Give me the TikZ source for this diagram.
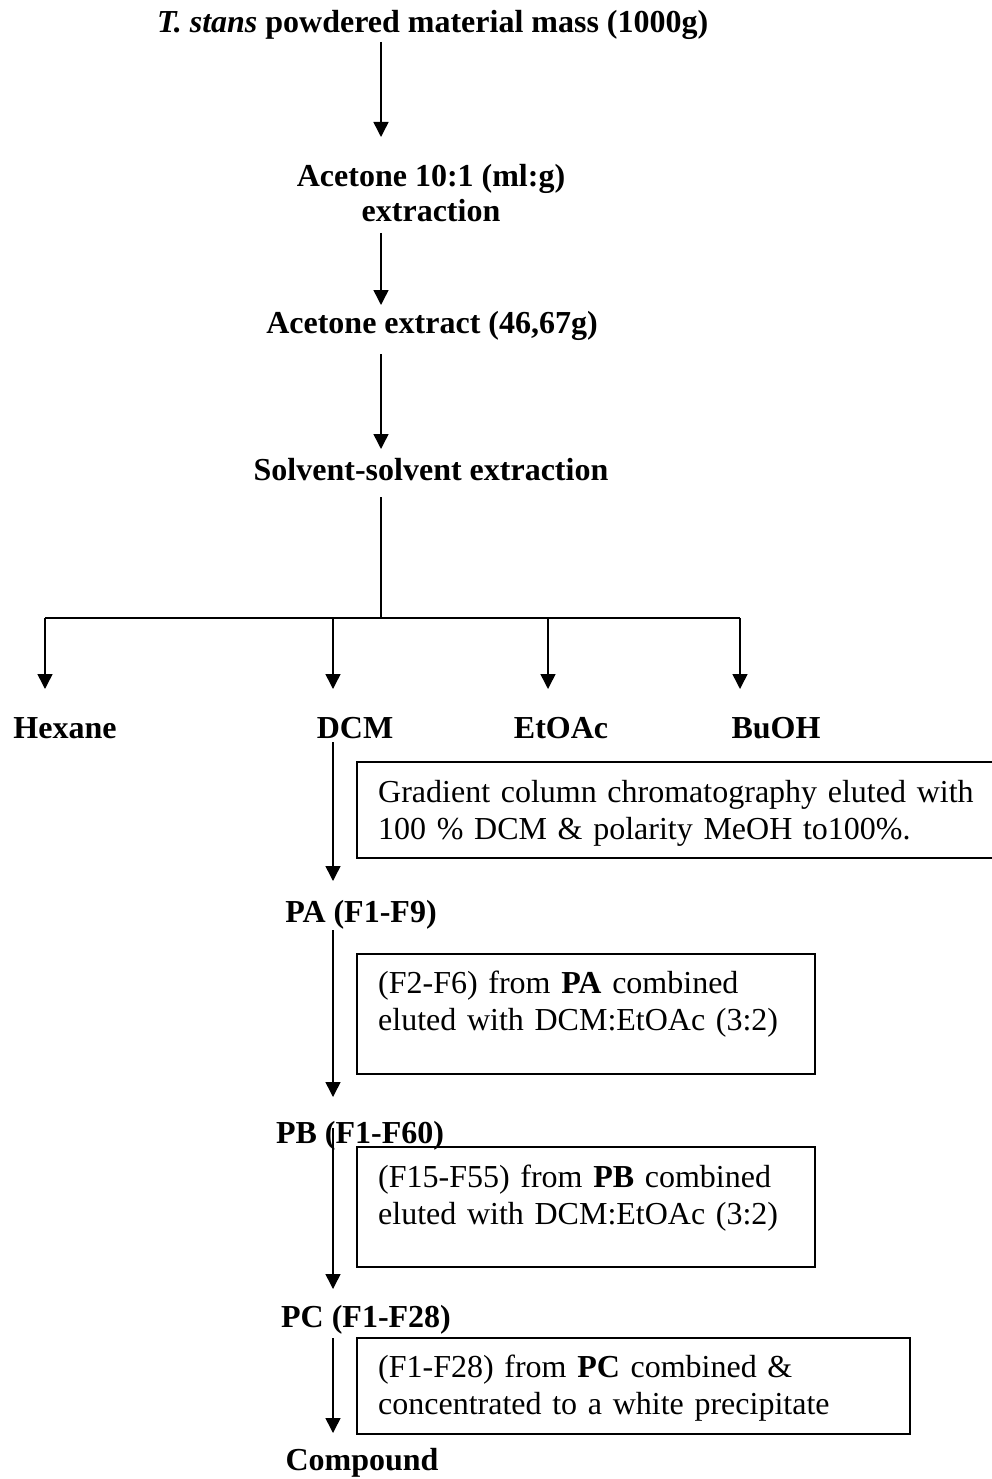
\documentclass[tikz,border=0pt]{standalone}
\usepackage{fontspec}
\setmainfont{Liberation Serif}
\usetikzlibrary{arrows.meta}
\begin{document}
\begin{tikzpicture}[x=1pt,y=-1pt,
  lbl/.style={font=\fontsize{32}{37}\selectfont\bfseries, inner sep=0pt, anchor=base},
  txt/.style={font=\fontsize{32}{37}\selectfont, inner sep=0pt, anchor=base west, text width=600pt, align=left},
  boxst/.style={draw, line width=2pt},
  ln/.style={line width=1.5pt},
  arr/.style={line width=1.5pt, -{Triangle[width=15pt,length=15pt]}}]
\useasboundingbox (0,0) rectangle (992,1479);

% text nodes
\node[lbl, anchor=base west] (title) at (157,33) {\textit{T. stans} powdered material mass (1000g)};
\node[lbl] (acet1) at (431,187) {Acetone 10:1 (ml:g)};
\node[lbl] (acet2) at (431,222) {extraction};
\node[lbl] (ext) at (432,333) {Acetone extract (46,67g)};
\node[lbl] (sse) at (431,480) {Solvent-solvent extraction};
\node[lbl] (hex) at (65,738) {Hexane};
\node[lbl] (dcm) at (355,738) {DCM};
\node[lbl] (etoac) at (561,738) {EtOAc};
\node[lbl] (buoh) at (776,738) {BuOH};
\node[lbl] (pa) at (361,922) {PA (F1-F9)};
\node[lbl] (pb) at (360,1143) {PB (F1-F60)};
\node[lbl] (pc) at (366,1327) {PC (F1-F28)};
\node[lbl] (cmp) at (362,1470) {Compound};

% boxes
\draw[boxst] (357,762) rectangle (1000,858);
\node[txt] (t1) at (378,802) {Gradient column chromatography eluted with\\100 \% DCM \& polarity MeOH to100\%.};
\draw[boxst] (357,954) rectangle (815,1074);
\node[txt] (t2) at (378,993) {(F2-F6) from \textbf{PA} combined\\eluted with DCM:EtOAc (3:2)};
\draw[boxst] (357,1147) rectangle (815,1267);
\node[txt] (t3) at (378,1187) {(F15-F55) from \textbf{PB} combined\\eluted with DCM:EtOAc (3:2)};
\draw[boxst] (357,1338) rectangle (910,1434);
\node[txt] (t4) at (378,1377) {(F1-F28) from \textbf{PC} combined \&\\concentrated to a white precipitate};

% connector coordinates
\coordinate (a1s) at (381,42);   \coordinate (a1e) at (381,137);
\coordinate (a2s) at (381,233);  \coordinate (a2e) at (381,305);
\coordinate (a3s) at (381,354);  \coordinate (a3e) at (381,449);
\coordinate (trs) at (381,497);  \coordinate (tre) at (381,618);
\coordinate (hl) at (45,618);    \coordinate (hr) at (740,618);
\coordinate (d2) at (333,618);   \coordinate (d3) at (548,618);
\coordinate (e1) at (45,689);    \coordinate (e2) at (333,689);
\coordinate (e3) at (548,689);   \coordinate (e4) at (740,689);
\coordinate (c1s) at (333,742);  \coordinate (c1e) at (333,881);
\coordinate (c2s) at (333,930);  \coordinate (c2e) at (333,1097);
\coordinate (c3s) at (333,1128); \coordinate (c3e) at (333,1289);
\coordinate (c4s) at (333,1338); \coordinate (c4e) at (333,1433);

% connectors
\draw[arr] (a1s) -- (a1e);
\draw[arr] (a2s) -- (a2e);
\draw[arr] (a3s) -- (a3e);
\draw[ln] (trs) -- (tre);
\draw[ln] (hl) -- (hr);
\draw[arr] (hl) -- (e1);
\draw[arr] (d2) -- (e2);
\draw[arr] (d3) -- (e3);
\draw[arr] (hr) -- (e4);
\draw[arr] (c1s) -- (c1e);
\draw[arr] (c2s) -- (c2e);
\draw[arr] (c3s) -- (c3e);
\draw[arr] (c4s) -- (c4e);
\end{tikzpicture}
\end{document}
